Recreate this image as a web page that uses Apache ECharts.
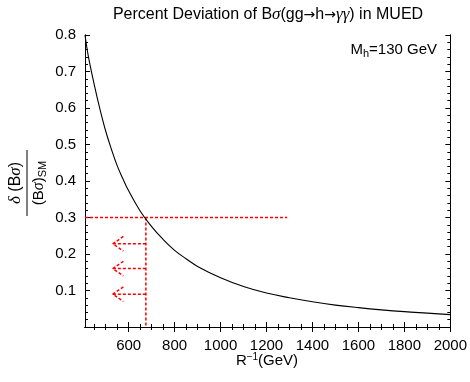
<!DOCTYPE html>
<html>
<head>
<meta charset="utf-8">
<script src="https://cdn.jsdelivr.net/npm/echarts@6/dist/echarts.min.js"></script>
<style>
  html, body { margin: 0; padding: 0; background: #fff; }
  #chart { width: 470px; height: 382px; }
</style>
</head>
<body>
<div id="chart"></div>
<script>
// curve: R^-1 (GeV) vs relative deviation
const rInv = [410, 425, 450, 475, 500, 525, 550, 575, 600, 650, 700, 750, 800, 850, 900, 1000, 1100, 1200, 1300, 1400, 1500, 1600, 1700, 1800, 1900, 2000]
const deviation = [0.80, 0.74, 0.665, 0.597, 0.537, 0.487, 0.442, 0.406, 0.373, 0.318, 0.275, 0.24, 0.21, 0.187, 0.166, 0.135, 0.111, 0.093, 0.080, 0.069, 0.060, 0.053, 0.047, 0.042, 0.038, 0.034]

const xMajorTicks = [600, 800, 1000, 1200, 1400, 1600, 1800, 2000]
const xMinorTicks = [450, 500, 550, 650, 700, 750, 850, 900, 950, 1050, 1100, 1150, 1250, 1300, 1350, 1450, 1500, 1550, 1650, 1700, 1750, 1850, 1900, 1950]
const yMajorTicks = [0.1, 0.2, 0.3, 0.4, 0.5, 0.6, 0.7, 0.8]
const yMinorTicks = [0.02, 0.04, 0.06, 0.08, 0.12, 0.14, 0.16, 0.18, 0.22, 0.24, 0.26, 0.28, 0.32, 0.34, 0.36, 0.38,
  0.42, 0.44, 0.46, 0.48, 0.52, 0.54, 0.56, 0.58, 0.62, 0.64, 0.66, 0.68, 0.72, 0.74, 0.76, 0.78]

// red guide lines
const cutLevel = 0.3
const cutR = 675
const cutLineEnd = 1290
const arrowLevels = [0.228, 0.16, 0.09]
const arrowTip = 531
const arrowWingR = 577
const arrowWingDy = 0.02

const X_MIN = 410, X_MAX = 2000
const FONT = '"Liberation Sans", Arial, sans-serif'
const SERIF = '"Liberation Serif", "DejaVu Serif", serif'
const ARROWFONT = '"DejaVu Sans", sans-serif'

const chart = echarts.init(document.getElementById('chart'))

// build dashed guide data (gaps with '-')
const guide = [[X_MIN, cutLevel], [cutLineEnd, cutLevel], '-', [cutR, cutLevel], [cutR, 0]]
arrowLevels.forEach(y => {
  guide.push('-', [cutR, y], [arrowTip, y], '-', [arrowWingR, y + arrowWingDy], [arrowTip, y], [arrowWingR, y - arrowWingDy])
})

function xAxisDef(pos, ticks, len, labels) {
  return {
    type: 'value', position: pos, min: X_MIN, max: X_MAX,
    axisLine: { show: true, lineStyle: { color: '#000', width: 1 } },
    axisTick: { show: true, inside: true, length: len, customValues: ticks, lineStyle: { color: '#000' } },
    axisLabel: labels
      ? { show: true, customValues: ticks, margin: 11, color: '#000', fontSize: 15, fontFamily: FONT, formatter: v => String(v) }
      : { show: false },
    splitLine: { show: false }
  }
}
function yAxisDef(pos, ticks, len, labels) {
  return {
    type: 'value', position: pos, min: 0, max: 0.8,
    axisLine: { show: true, lineStyle: { color: '#000', width: 1 } },
    axisTick: { show: true, inside: true, length: len, customValues: ticks, lineStyle: { color: '#000' } },
    axisLabel: labels
      ? { show: true, customValues: ticks, margin: 9, color: '#000', fontSize: 15, fontFamily: FONT, formatter: v => v.toFixed(1) }
      : { show: false },
    splitLine: { show: false }
  }
}

const option = {
  backgroundColor: '#fff',
  animation: false,
  grid: { left: 85, right: 19, top: 35, bottom: 55 },
  xAxis: [
    xAxisDef('bottom', xMajorTicks, 5, true),
    xAxisDef('bottom', xMinorTicks, 3, false),
    xAxisDef('top', xMajorTicks, 5, false),
    xAxisDef('top', xMinorTicks, 3, false)
  ],
  yAxis: [
    yAxisDef('left', yMajorTicks, 5, true),
    yAxisDef('left', yMinorTicks, 3, false),
    yAxisDef('right', yMajorTicks, 5, false),
    yAxisDef('right', yMinorTicks, 3, false)
  ],
  series: [
    {
      type: 'line',
      data: rInv.map((r, i) => [r, deviation[i]]),
      smooth: 0.4,
      showSymbol: false,
      lineStyle: { color: '#000', width: 1.1 },
      z: 3
    },
    {
      type: 'line',
      data: guide,
      connectNulls: false,
      showSymbol: false,
      lineStyle: { color: '#ff0000', width: 1.5, type: [3, 2] },
      z: 2
    }
  ],
  graphic: [
    {
      type: 'text', x: 268, y: 15,
      style: {
        text: '{a|Percent Deviation of B}{g|σ}{a|(gg}{r|→}{a|h}{r|→}{g|γγ}{a|) in MUED}',
        align: 'center', verticalAlign: 'middle',
        rich: {
          a: { fontSize: 16, fontFamily: FONT, fill: '#000' },
          r: { fontSize: 14, fontFamily: ARROWFONT, fill: '#000' },
          g: { fontSize: 17, fontFamily: SERIF, fontStyle: 'italic', fill: '#000' }
        }
      }
    },
    {
      type: 'text', x: 437, y: 50,
      style: {
        text: '{a|M}{s|h}{a|=130 GeV}',
        align: 'right', verticalAlign: 'middle',
        rich: {
          a: { fontSize: 15, fontFamily: FONT, fill: '#000', lineHeight: 18 },
          s: { fontSize: 11, fontFamily: FONT, fill: '#000', lineHeight: 10, verticalAlign: 'bottom', padding: [6, 0, 0, 0] }
        }
      }
    },
    {
      type: 'text', x: 267, y: 361,
      style: {
        text: '{a|R}{s|−1}{a|(GeV)}',
        align: 'center', verticalAlign: 'middle',
        rich: {
          a: { fontSize: 15, fontFamily: FONT, fill: '#000', lineHeight: 18 },
          s: { fontSize: 10, fontFamily: FONT, fill: '#000', lineHeight: 10, verticalAlign: 'top' }
        }
      }
    },
    {
      type: 'group', x: 27, y: 183, rotation: Math.PI / 2,
      children: [
        { type: 'line', shape: { x1: -33, y1: 0, x2: 33, y2: 0 }, style: { stroke: '#000', lineWidth: 1 } },
        {
          type: 'text', x: 0, y: -11,
          style: {
            text: '{i|δ}{a| (B}{i|σ}{a|)}',
            align: 'center', verticalAlign: 'middle',
            rich: {
              a: { fontSize: 16, fontFamily: FONT, fill: '#000' },
              i: { fontSize: 17, fontFamily: SERIF, fontStyle: 'italic', fill: '#000' }
            }
          }
        },
        {
          type: 'text', x: 0, y: 12,
          style: {
            text: '{a|(B}{i|σ}{a|)}{s|SM}',
            align: 'center', verticalAlign: 'middle',
            rich: {
              a: { fontSize: 15, fontFamily: FONT, fill: '#000', lineHeight: 18 },
              i: { fontSize: 16, fontFamily: SERIF, fontStyle: 'italic', fill: '#000', lineHeight: 18 },
              s: { fontSize: 11, fontFamily: FONT, fill: '#000', lineHeight: 10, verticalAlign: 'bottom', padding: [6, 0, 0, 0] }
            }
          }
        }
      ]
    }
  ]
}

chart.setOption(option)
</script>
</body>
</html>
